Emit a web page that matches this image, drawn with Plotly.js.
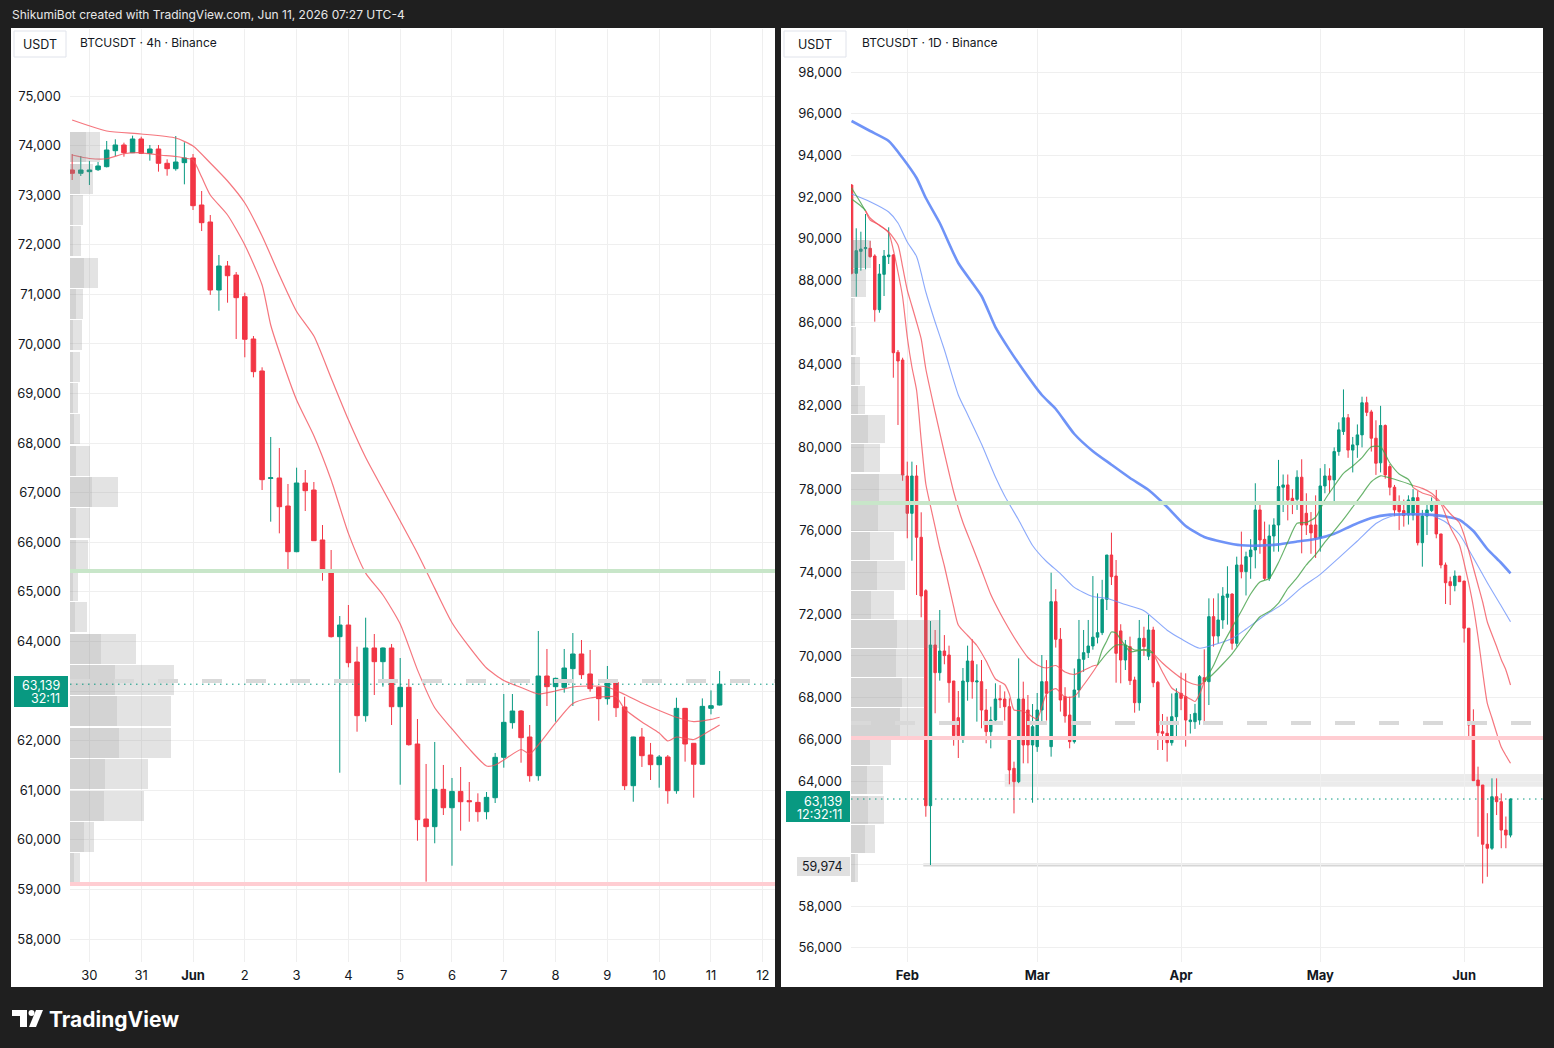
<!DOCTYPE html>
<html>
<head>
<meta charset="utf-8">
<script src="https://cdn.plot.ly/plotly-3.0.1.min.js"></script>
<style>
html,body{margin:0;padding:0;background:#1f1f1f;}
#chart{width:1554px;height:1048px;}
</style>
</head>
<body>
<div id="chart"></div>
<script>
// ---------------- LEFT PANEL DATA (BTCUSDT 4h, first bar 2026-05-29 16:00) ----------------
const leftOpen  = [73508,73441,73474,73514,73575,73897,74012,73857,74133,73844,73931,73643,73534,73656,73750,72802,72459,71088,71572,71390,70953,70100,69455,67290,67297,66732,65811,67196,67055,66047,65388,64097,64332,63586,62504,63869,63593,63869,62685,63076,61933,60420,60266,61019,60648,60977,60790,60756,60568,60850,61664,62363,62598,62074,61294,63304,63089,63076,63452,63748,63345,63076,62847,63177,62679,61092,62074,61711,61516,61671,60991,62652,61947,61524,62652,62719];
const leftHigh  = [73830,73790,73689,73669,74093,74127,74059,74200,74180,74012,74012,73723,74193,74066,73830,73084,72600,71794,71673,71450,71033,70160,69529,68124,67902,67176,67505,67458,67216,66349,65845,64514,64736,63895,64480,64151,63880,63950,63667,63244,62437,61530,61974,61510,61248,61469,61167,60938,60965,61752,62941,62941,62618,62316,64212,63849,63270,63849,64171,64030,63829,63090,63506,63190,62887,62080,62256,61954,61711,61711,62866,62660,61950,62853,63014,63405];
const leftLow   = [73306,73387,73205,73488,73560,73790,73776,73850,73830,73696,73474,73393,73494,73219,72701,72277,70990,70670,70832,70100,69731,69327,67055,66416,66181,65442,65800,66631,66030,65226,64080,61354,63479,62181,62383,62921,63089,62316,61112,61900,59983,59157,59931,60501,59479,60185,60366,60366,60414,60743,61455,62242,61556,61173,61193,62699,62383,62968,62699,63244,62988,62403,62726,62477,61005,60769,61470,61207,61052,60729,60930,61577,60850,61520,62531,62710];
const leftClose = [73441,73508,73508,73589,73911,74012,73857,74133,73844,73931,73643,73534,73669,73750,72788,72445,71088,71572,71376,70933,70094,69441,67263,67300,66718,65811,67196,67041,66033,65442,64097,64332,63573,62504,63869,63593,63869,62685,63076,61919,60407,60266,61019,60648,60977,60769,60770,60568,60857,61664,62370,62598,62060,61294,63304,63089,63257,63465,63748,63331,63049,62847,63177,62665,61092,62074,61697,61516,61671,60991,62652,61933,61524,62692,62706,63139];

// moving averages (bar index, price)
const leftSlowIdx = [0,4,8,12,14,16,18,20,22,24,26,28,30,32,34,36,38,40,42,44,46,48,50,52,54,56,58,60,62,64,66,68,70,72,74,75];
const leftSlowVal = [74516,74294,74234,74153,73992,73649,73286,72842,72177,71391,70655,70160,69313,68471,67710,67065,66430,65780,65071,64379,63891,63465,63214,63073,62941,63002,63083,63103,63083,62931,62759,62609,62472,62383,62428,62472];
const leftFastIdx = [0,2,4,6,8,10,12,13,14,15,16,18,20,22,23,24,26,28,30,32,34,36,38,40,42,44,46,48,49,50,52,53,54,56,58,60,62,63,64,66,68,69,70,72,74,75];
const leftFastVal = [73810,73740,73734,73835,73855,73810,73780,73750,73709,73367,73004,72600,71995,71189,70382,69838,68870,68150,67257,66180,65379,64938,64353,63428,62664,62236,61833,61490,61510,61611,61822,61732,61913,62357,62750,62861,62887,62887,62639,62377,62155,61994,62074,62024,62216,62316];

// visible range volume profile (row price, up volume, down volume)
const vpLeftPrice = [73968,73336,72704,72072,71440,70807,70175,69543,68911,68279,67646,67014,66382,65750,65118,64485,63853,63221,62589,61957,61324,60692,60060,59428];
const vpLeftUp    = [16,10,3,3,14,6,3,3,3,4,6,22,6,6,3,5,31,45,47,49,35,34,14,4];
const vpLeftDown  = [14,13,10,8,14,7,9,7,5,6,14,26,14,12,5,12,35,59,54,52,43,40,10,6];

const leftTickVals = ['2026-05-30','2026-05-31','2026-06-01','2026-06-02','2026-06-03','2026-06-04','2026-06-05','2026-06-06','2026-06-07','2026-06-08','2026-06-09','2026-06-10','2026-06-11','2026-06-12'];
const leftTickText = ['30','31','<b>Jun</b>','2','3','4','5','6','7','8','9','10','11','12'];
const leftYTicks = [58000,59000,60000,61000,62000,63000,64000,65000,66000,67000,68000,69000,70000,71000,72000,73000,74000,75000];
const leftYText  = ['58,000','59,000','60,000','61,000','62,000','','64,000','65,000','66,000','67,000','68,000','69,000','70,000','71,000','72,000','73,000','74,000','75,000'];

const leftLevels = {green:65420, pink:59110, dashed:63203, last:63139};

// ---------------- RIGHT PANEL DATA (BTCUSDT 1D, first bar 2026-01-20) ----------------
const rightOpen  = [92580,88347,89400,89530,89546,89177,86603,88298,89145,89225,84560,84190,78628,76838,78628,75689,73128,62818,70525,69197,70237,70045,68798,67039,66176,68766,69757,68750,68766,67406,66368,66927,67950,67934,67566,64610,63971,67934,67406,65730,65650,67406,68766,65650,72602,70797,68046,67166,65890,68367,69837,70157,70477,70900,71116,72714,74840,73830,71200,69805,70445,68847,67758,70845,69990,71244,68734,66368,66290,65840,67087,68207,68048,66850,66847,66927,68958,68766,71884,70957,71724,72810,72970,70605,74360,74040,74760,75080,77000,75590,73720,75750,76280,78090,78200,77560,77510,78570,76840,76280,76280,75660,78150,78630,78440,79800,80760,81420,79870,80120,80600,82140,81700,80440,79260,81050,79080,78090,77240,76970,76760,76760,77590,75430,76710,76970,77240,75850,74360,73560,73370,73830,73590,71330,66690,64050,63810,60970,60780,63250,63010,61650,61410];
const rightHigh  = [92620,90505,90342,91191,89897,89258,88794,89465,90553,89273,84670,84300,79316,79316,79150,76887,73200,71675,71244,72203,71000,70493,68800,68319,69422,70493,70800,69600,69805,68415,67566,68687,68600,68300,67966,64930,69884,68766,68127,67694,68223,70045,69800,73991,73200,71340,68500,68046,69400,71724,71244,71724,73830,73000,73650,74840,75910,74600,71520,70765,70925,69005,71724,71400,71964,71400,68800,67215,67087,68200,68447,69200,69166,67215,67700,69086,70317,72762,72762,73000,73300,74300,73000,74760,75960,75000,75600,78280,77400,76440,76300,76600,79400,78700,78700,78000,78900,79430,77800,76900,77700,79000,79200,79000,80000,81200,82780,81600,80500,81100,82430,82430,81800,81300,81990,81100,79200,78200,77700,77500,77700,78000,77900,77000,77400,77600,77960,75850,74480,73800,74100,73830,73600,71330,67440,64690,63810,62460,64130,64130,63410,62300,63170];
const rightLow   = [88300,87226,88472,88539,89100,86027,86459,87259,88794,83341,81074,78400,75641,74567,72922,71853,62290,59974,67250,68814,69600,67757,65697,65106,65826,67853,67950,66850,66531,65810,65570,66750,67500,66900,63845,62450,63900,64850,64850,62962,65400,66800,66900,65170,70400,67330,66800,65570,65800,68000,69240,69900,70300,70600,71000,72200,73400,68717,68687,69325,68607,67279,67375,70000,69800,68500,65490,65490,64930,65700,65970,67400,65650,66280,66500,66700,66700,67646,70445,70600,71300,71500,70300,70445,73720,72900,73700,74200,74900,73640,73600,75000,75000,76900,76500,76800,77000,74920,75800,74900,74700,75000,77800,77800,77400,79600,80600,79500,78800,79500,80000,81500,79800,78680,78800,78500,77700,76700,76040,76200,76300,76500,75300,74280,75800,76900,75640,74200,72490,72440,73100,73560,70640,66130,64000,61330,59090,59410,60700,62370,60780,60780,61300];
const rightClose = [88350,89433,89510,89580,89145,86603,88314,89177,89225,84540,84143,78676,76838,78628,75689,72874,62818,70525,69197,70237,70014,68717,66176,66176,68798,69757,68766,68800,67406,66368,66927,67934,67900,67566,64531,63971,67934,65730,65730,66607,67406,68766,68207,72602,70797,67886,67120,65890,68367,69837,70157,70477,70900,71116,72714,74840,73800,70125,69805,70525,68814,67758,70845,70445,71244,68718,66320,66290,65840,67087,68207,67966,66927,66927,67250,69005,68766,71884,70957,71724,72874,72970,70605,74360,74040,74760,75080,77000,75560,73720,75750,76280,78120,78200,77480,77350,78570,76280,76280,75900,75660,78150,78630,78440,79800,80840,81420,79870,80120,80600,82140,81680,80440,79240,81050,78680,78090,77000,76920,76730,77480,77590,75430,76710,77000,77240,75850,74360,73510,73370,73830,73560,71330,66690,64020,63780,60970,60780,63250,63010,61650,61410,63139];

// moving averages (days since 2026-02-01, price)
const blueSlowDays = [-12,-8,-4,-1,2,4,7,11,16,19,22,25,29,32,36,40,44,48,52,56,60,64,68,72,76,80,84,88,92,96,100,104,108,112,116,119,122,125,128,130];
const blueSlowVal  = [95650,95171,94691,93876,92917,91958,90760,88842,87259,85768,84689,83711,82512,81841,80642,79818,79170,78532,77957,77142,76230,75703,75464,75305,75291,75348,75487,75607,75862,76269,76614,76777,76791,76777,76686,76528,75991,75128,74457,73962];
const blueMidDays  = [-12,-8,-4,-2,0,2,4,6,8,11,13,16,19,21,24,27,30,33,36,40,43,47,51,56,59,63,66,70,73,77,81,85,89,93,97,101,104,108,112,116,119,122,125,128,130];
const blueMidVal   = [92150,91781,91287,90760,89849,89153,87451,86013,84680,82512,81577,80162,78580,77670,76518,75296,74528,73948,73287,72850,72764,72462,72170,71234,70821,70371,70530,70836,71292,71939,72511,73287,73910,74701,75511,76350,76677,76797,76830,76423,75823,74701,73512,72395,71642];
const ribbonFastDays = [-12,-10,-9,-8,-6,-4,-3,-2,-1,0,1,2,3,4,5,6,7,8,10,11,13,15,17,19,21,22,23,25,27,28,30,32,34,36,38,40,41,42,43,44,45,46,47,48,50,52,53,55,57,59,61,62,63,64,66,68,70,72,74,76,78,80,82,84,86,88,90,92,94,96,98,100,102,104,106,108,109,111,113,115,117,119,120,121,122,123,124,125,126,127,128,129,130];
const ribbonFastVal  = [92438,91718,91335,90903,90664,90280,89465,88410,87211,85293,83855,82752,80354,78245,77190,76183,75176,74313,72347,71484,70981,70501,69757,68894,68630,68175,67408,67360,67072,66976,68175,68429,68031,68055,68606,69230,69566,70284,70716,71148,71100,70788,70491,70203,70260,70308,70126,69230,68462,68175,67935,67815,68175,68765,69542,70549,71364,72155,72970,73546,73714,74481,75464,76360,76398,76648,77492,78148,78753,79108,79511,80033,80033,79252,78724,78460,78077,77813,77669,77286,76183,75320,74457,73476,72347,70908,69230,67720,67024,66305,65634,65226,64852];
const ribbonSlowDays = [-12,-10,-9,-8,-6,-4,-2,-1,0,1,2,3,4,6,8,10,12,14,16,18,20,22,24,26,28,30,32,34,36,38,40,41,43,45,47,49,51,53,55,57,59,61,63,64,66,68,70,72,74,76,78,80,82,84,86,88,90,92,94,96,98,100,102,104,106,108,109,111,113,115,117,119,120,121,122,123,124,125,126,127,128,129,130];
const ribbonSlowVal  = [91910,91575,91359,91000,90640,90328,89705,88650,87547,86780,86013,85198,83759,81697,79731,77861,76398,75271,74121,72946,72059,71268,70549,69926,69566,69422,69542,69230,69110,69302,69518,69566,70126,70524,70524,70284,70284,70126,69662,69278,68942,68702,68606,68765,69158,69614,70102,70716,71316,71882,72131,72530,73233,73751,74361,74855,75455,75991,76543,77142,77751,78350,78638,78532,78402,78258,78173,78034,77799,77357,76830,76374,75799,75032,74216,73401,72586,71627,71028,70453,69830,69326,68606];
const ribbonSwitchDays = [-9,41,53,64,109];   // trend colour changes (green first)

const vpRightPrice = [89292,87887,86487,85082,83682,82278,80873,79473,78068,76667,75262,73857,72457,71052,69652,68247,66843,65442,64037,62632,61232,59827];
const vpRightUp    = [14,4,2,2,4,7,17,13,28,27,19,26,20,46,45,51,49,19,16,17,14,4];
const vpRightDown  = [6,11,2,3,5,7,17,16,26,30,24,28,23,43,29,23,25,21,16,16,10,3];

const rightTickVals = ['2026-02-01','2026-03-01','2026-04-01','2026-05-01','2026-06-01'];
const rightTickText = ['<b>Feb</b>','<b>Mar</b>','<b>Apr</b>','<b>May</b>','<b>Jun</b>'];
const rightYTicks = [56000,58000,60000,62000,64000,66000,68000,70000,72000,74000,76000,78000,80000,82000,84000,86000,88000,90000,92000,94000,96000,98000];
const rightYText  = ['56,000','58,000','','','64,000','66,000','68,000','70,000','72,000','74,000','76,000','78,000','80,000','82,000','84,000','86,000','88,000','90,000','92,000','94,000','96,000','98,000'];
const rightLevels = {green:77334, pink:66065, dashed:66784, last:63139, low:59974, bandLo:63730, bandHi:64340, bandStart:'2026-02-22', lowStart:'2026-02-04 11:00'};

// ---------------- BUILD ----------------
const W = 1554, H = 1048;
const fx = p => p / W, fy = p => 1 - p / H;
const UP = '#089981', DOWN = '#f23645', GRID = '#efefef', TXT = '#131722';
const FONT = 'Inter, Roboto, "Noto Sans", sans-serif';
const HOUR = 3600e3, DAY = 86400e3;
const fmtMin = ms => new Date(ms).toISOString().slice(0,16).replace('T',' ');
const fmtDay = ms => new Date(ms).toISOString().slice(0,10);

const leftStart = Date.UTC(2026,4,29,16,0);
const leftTimes = leftOpen.map((_,k) => fmtMin(leftStart + k*4*HOUR));
const rightStart = Date.UTC(2026,0,20);
const rightDates = rightOpen.map((_,i) => fmtDay(rightStart + i*DAY));
const feb1 = Date.UTC(2026,1,1);
const dayToDate = d => fmtMin(feb1 + d*DAY);

const traces = [];
const candle = (x,o,h,l,c,xa,ya) => ({
  type:'candlestick', x:x, open:o, high:h, low:l, close:c, xaxis:xa, yaxis:ya,
  increasing:{line:{color:UP,width:1}, fillcolor:UP},
  decreasing:{line:{color:DOWN,width:1}, fillcolor:DOWN},
  whiskerwidth:0, hoverinfo:'skip', showlegend:false
});
traces.push(candle(leftTimes,leftOpen,leftHigh,leftLow,leftClose,'x','y'));
traces.push(candle(rightDates,rightOpen,rightHigh,rightLow,rightClose,'x2','y2'));

const RED_LINE = 'rgba(242,80,90,0.78)', GREEN_LINE = 'rgba(67,160,71,0.8)';
const line = (x,y,xa,ya,color,width) => ({type:'scatter', mode:'lines', x:x, y:y, xaxis:xa, yaxis:ya,
  line:{color:color,width:width,shape:'spline',smoothing:0.6}, hoverinfo:'skip', showlegend:false});

traces.push(line(leftSlowIdx.map(i=>leftTimes[i]), leftSlowVal, 'x','y', RED_LINE, 1.2));
traces.push(line(leftFastIdx.map(i=>leftTimes[i]), leftFastVal, 'x','y', RED_LINE, 1.2));

traces.push(line(blueSlowDays.map(dayToDate), blueSlowVal, 'x2','y2', 'rgba(86,128,246,0.85)', 2.6));
traces.push(line(blueMidDays.map(dayToDate), blueMidVal, 'x2','y2', 'rgba(100,140,250,0.75)', 1.1));

function ribbon(days, vals){
  const out = []; let sx = [], sy = [], si = 0;
  const cols = [GREEN_LINE, RED_LINE];
  for (let i=0;i<days.length;i++){
    sx.push(dayToDate(days[i])); sy.push(vals[i]);
    if (si < ribbonSwitchDays.length && days[i] === ribbonSwitchDays[si]){
      out.push(line(sx, sy, 'x2','y2', cols[si%2], 1.2));
      sx = [dayToDate(days[i])]; sy = [vals[i]]; si++;
    }
  }
  out.push(line(sx, sy, 'x2','y2', cols[si%2], 1.2));
  return out;
}
ribbon(ribbonSlowDays, ribbonSlowVal).forEach(t=>traces.push(t));
ribbon(ribbonFastDays, ribbonFastVal).forEach(t=>traces.push(t));

const vpBar = (y,x,xa,ya,color,w) => ({type:'bar', orientation:'h', x:x, y:y, xaxis:xa, yaxis:ya, width:w,
  marker:{color:color, line:{width:0}}, hoverinfo:'skip', showlegend:false});
traces.push(vpBar(vpLeftPrice, vpLeftUp, 'x3','y','rgba(140,140,140,0.38)', 605));
traces.push(vpBar(vpLeftPrice, vpLeftDown, 'x3','y','rgba(140,140,140,0.24)', 605));
traces.push(vpBar(vpRightPrice, vpRightUp, 'x4','y2','rgba(140,140,140,0.38)', 1350));
traces.push(vpBar(vpRightPrice, vpRightDown, 'x4','y2','rgba(140,140,140,0.24)', 1350));

const yDom = [fy(962), fy(29)];
const axFont = {family:FONT, size:13, color:TXT};
const xBase = {type:'date', showgrid:true, gridcolor:GRID, gridwidth:1, zeroline:false, showline:false, ticks:'',
  tickfont:axFont, rangeslider:{visible:false}, fixedrange:true, ticklabelstandoff:4, tickmode:'array'};
const yBase = {showgrid:true, gridcolor:GRID, gridwidth:1, zeroline:false, showline:false, ticks:'', side:'left',
  tickfont:axFont, fixedrange:true, ticklabelstandoff:8, tickmode:'array'};

const shapes = [];
const annotations = [];
// panel backgrounds
shapes.push({type:'rect', xref:'paper', yref:'paper', x0:fx(11), x1:fx(775), y0:fy(987), y1:fy(28), fillcolor:'#ffffff', line:{width:0}, layer:'below'});
shapes.push({type:'rect', xref:'paper', yref:'paper', x0:fx(781), x1:fx(1543), y0:fy(987), y1:fy(28), fillcolor:'#ffffff', line:{width:0}, layer:'below'});

// left levels
shapes.push({type:'line', xref:'x domain', yref:'y', x0:0, x1:1, y0:leftLevels.green, y1:leftLevels.green, line:{color:'#c8e6c9', width:4}, layer:'above'});
shapes.push({type:'line', xref:'x domain', yref:'y', x0:0, x1:1, y0:leftLevels.pink, y1:leftLevels.pink, line:{color:'#ffcdd2', width:4}, layer:'above'});
shapes.push({type:'line', xref:'x domain', yref:'y', x0:0, x1:1, y0:leftLevels.dashed, y1:leftLevels.dashed, line:{color:'#d9d9d9', width:4, dash:'20px,24px'}, layer:'above'});
shapes.push({type:'line', xref:'x domain', yref:'y', x0:0, x1:1, y0:leftLevels.last, y1:leftLevels.last, line:{color:UP, width:1, dash:'1.5px,4.5px'}, layer:'above'});
// right levels
shapes.push({type:'rect', xref:'x2', yref:'y2', x0:rightLevels.bandStart, x1:'2026-06-18', y0:rightLevels.bandLo, y1:rightLevels.bandHi, fillcolor:'#ebebeb', line:{width:0}, layer:'below'});
shapes.push({type:'line', xref:'x2', yref:'y2', x0:rightLevels.lowStart, x1:'2026-06-18', y0:rightLevels.low, y1:rightLevels.low, line:{color:'#d6d6d6', width:3}, layer:'below'});
shapes.push({type:'line', xref:'x2 domain', yref:'y2', x0:0, x1:1, y0:rightLevels.green, y1:rightLevels.green, line:{color:'#c8e6c9', width:4}, layer:'above'});
shapes.push({type:'line', xref:'x2 domain', yref:'y2', x0:0, x1:1, y0:rightLevels.pink, y1:rightLevels.pink, line:{color:'#ffcdd2', width:4}, layer:'above'});
shapes.push({type:'line', xref:'x2 domain', yref:'y2', x0:0, x1:1, y0:rightLevels.dashed, y1:rightLevels.dashed, line:{color:'#d9d9d9', width:4, dash:'20px,24px'}, layer:'above'});
shapes.push({type:'line', xref:'x2 domain', yref:'y2', x0:0, x1:1, y0:rightLevels.last, y1:rightLevels.last, line:{color:UP, width:1, dash:'1.5px,4.5px'}, layer:'above'});

// header boxes
shapes.push({type:'rect', xref:'paper', yref:'paper', x0:fx(14), x1:fx(66), y0:fy(57), y1:fy(31), fillcolor:'#ffffff', line:{color:'#e0e3eb', width:1}, layer:'above'});
shapes.push({type:'rect', xref:'paper', yref:'paper', x0:fx(784), x1:fx(846), y0:fy(57), y1:fy(31), fillcolor:'#ffffff', line:{color:'#e0e3eb', width:1}, layer:'above'});
// price label boxes
shapes.push({type:'rect', xref:'paper', yref:'paper', x0:fx(14), x1:fx(68), y0:fy(707), y1:fy(676), fillcolor:UP, line:{width:0}, layer:'above'});
shapes.push({type:'rect', xref:'paper', yref:'paper', x0:fx(786), x1:fx(850), y0:fy(822), y1:fy(791), fillcolor:UP, line:{width:0}, layer:'above'});
shapes.push({type:'rect', xref:'paper', yref:'paper', x0:fx(797), x1:fx(850), y0:fy(876), y1:fy(857), fillcolor:'#e0e0e0', line:{width:0}, layer:'above'});
// TradingView logo
const pth = pts => 'M' + pts.map(p => fx(p[0]) + ',' + fy(p[1])).join(' L') + ' Z';
shapes.push({type:'path', xref:'paper', yref:'paper', path:pth([[12,1010],[27,1010],[27,1027],[20,1027],[20,1016],[12,1016]]), fillcolor:'#ffffff', line:{width:0}});
shapes.push({type:'circle', xref:'paper', yref:'paper', x0:fx(28.5), x1:fx(34.5), y0:fy(1016), y1:fy(1010), fillcolor:'#ffffff', line:{width:0}});
shapes.push({type:'path', xref:'paper', yref:'paper', path:pth([[36,1010],[43,1010],[36,1027],[29,1027]]), fillcolor:'#ffffff', line:{width:0}});

const ann = (x,y,text,size,color,anchor,extra) => Object.assign({xref:'paper', yref:'paper', x:fx(x), y:fy(y), text:text,
  showarrow:false, xanchor:anchor||'left', yanchor:'middle', font:{family:FONT, size:size, color:color}}, extra||{});
annotations.push(ann(10,15,'ShikumiBot created with TradingView.com, Jun 11, 2026 07:27 UTC-4',12,'#e8e8e8'));
annotations.push(ann(40,44,'USDT',12.5,TXT,'center'));
annotations.push(ann(78,43,'BTCUSDT · 4h · Binance',12,TXT));
annotations.push(ann(815,44,'USDT',12.5,TXT,'center'));
annotations.push(ann(860,43,'BTCUSDT · 1D · Binance',12,TXT));
annotations.push(ann(62,685,'63,139',12.5,'#ffffff','right'));
annotations.push(ann(62,698,'32:11',12.5,'#ffffff','right'));
annotations.push(ann(844,801,'63,139',12.5,'#ffffff','right'));
annotations.push(ann(844,814,'12:32:11',12.5,'#ffffff','right'));
annotations.push(ann(844,866,'59,974',12.5,TXT,'right'));
annotations.push(Object.assign(ann(47,1019,'TradingView',21,'#ffffff'), {font:{family:FONT, size:21, color:'#ffffff', weight:700}}));

const layout = {
  width:W, height:H, margin:{l:0,r:0,t:0,b:0},
  paper_bgcolor:'#1f1f1f', plot_bgcolor:'#ffffff',
  showlegend:false, hovermode:false, barmode:'stack', boxgap:0.25,
  xaxis: Object.assign({}, xBase, {domain:[fx(70), fx(775)], anchor:'y', range:['2026-05-29 15:00','2026-06-12 05:40'], tickvals:leftTickVals, ticktext:leftTickText}),
  yaxis: Object.assign({}, yBase, {domain:yDom, anchor:'x', range:[57537,76351], tickvals:leftYTicks, ticktext:leftYText}),
  xaxis2: Object.assign({}, xBase, {domain:[fx(851), fx(1543)], anchor:'y2', range:['2026-01-19 21:00','2026-06-18 00:00'], tickvals:rightTickVals, ticktext:rightTickText}),
  yaxis2: Object.assign({}, yBase, {domain:yDom, anchor:'x2', range:[55324,100062], tickvals:rightYTicks, ticktext:rightYText}),
  xaxis3: {overlaying:'x', anchor:'y', range:[0,705], visible:false, fixedrange:true},
  xaxis4: {overlaying:'x2', anchor:'y2', range:[0,692], visible:false, fixedrange:true},
  shapes:shapes, annotations:annotations
};
Plotly.newPlot('chart', traces, layout, {staticPlot:true, displayModeBar:false});
</script>
</body>
</html>
